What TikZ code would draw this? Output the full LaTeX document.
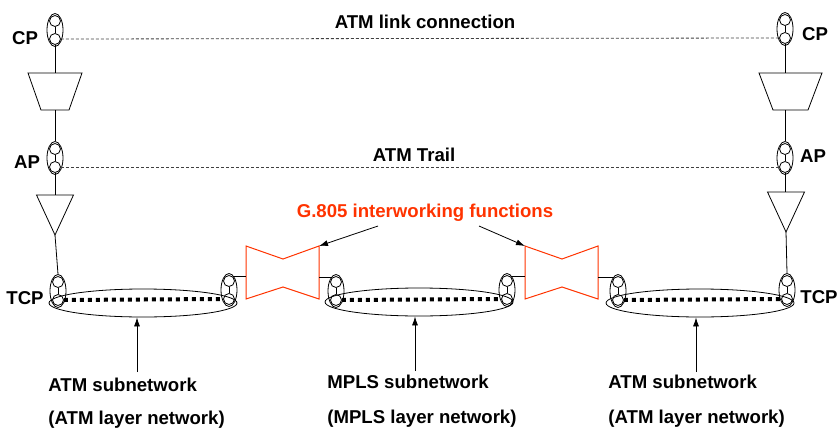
\documentclass[tikz,border=0pt]{standalone}
\usepackage{fontspec}
\setmainfont{Liberation Sans}
\usepackage{tikz}
\usetikzlibrary{arrows.meta,positioning,shapes.geometric}
\definecolor{iwred}{RGB}{255,51,0}
\tikzstyle{portshell}=[draw,ellipse,minimum width=16pt,minimum height=33pt,inner sep=0pt]
\tikzstyle{portdot}=[draw,circle,minimum size=11pt,inner sep=0pt]
\tikzstyle{subnet}=[draw,ellipse,minimum width=188pt,minimum height=28pt,inner sep=0pt]
\tikzstyle{lbl}=[font=\bfseries\fontsize{18.6}{22}\selectfont,inner sep=0pt]
\tikzstyle{conn}=[black!75,dash pattern=on 3pt off 2pt]
\tikzstyle{fabric}=[line width=4pt,dash pattern=on 4pt off 4pt]
\tikzstyle{iwf}=[iwred,line width=1pt]
\tikzstyle{pointer}=[-{Latex[length=9pt,width=6pt]}]
% a connection point: ellipse round two small circles
\newcommand{\portpair}[3]{%
  \node[portshell] (#1) at (#2,#3) {};
  \node[portdot] (#1-t) at (#2,#3-9) {};
  \node[portdot] (#1-b) at (#2,#3+9) {};
  \draw (#1-t) -- (#1-b);
}
% adaptation trapezium: name, x, top y, half top, half bottom
\newcommand{\adapt}[5]{%
  \coordinate (#1-n) at (#2,#3);
  \coordinate (#1-s) at (#2,#3+37);
  \draw (#2-#4,#3) -- (#2+#4,#3) -- (#2+#5,#3+37) -- (#2-#5,#3+37) -- cycle;
}
% termination triangle: name, x, top y
\newcommand{\termtri}[3]{%
  \coordinate (#1-n) at (#2,#3);
  \coordinate (#1-s) at (#2,#3+40);
  \draw (#2-18.5,#3) -- (#2+18.5,#3) -- (#2,#3+40) -- cycle;
}

\begin{document}
\begin{tikzpicture}[x=1pt,y=-1pt,line width=0.8pt]
\useasboundingbox (0,0) rectangle (837,428);

% left end
\portpair{cpL}{55}{30}
\adapt{adL}{55}{73}{27}{14}
\portpair{apL}{55}{158}
\termtri{trL}{55}{195}
\portpair{tcpL}{58}{291}
\draw (cpL-b.south) -- (adL-n);
\draw (adL-s) -- (apL.north);
\draw (apL-b.south) -- (trL-n);
\draw (trL-s) -- (tcpL.north);
\node[lbl] (cpLlbl) at (25,38) {CP};
\node[lbl] (apLlbl) at (27,162) {AP};
\node[lbl] (tcpLlbl) at (25,298) {TCP};

% right end
\portpair{cpR}{785}{29}
\adapt{adR}{790.5}{73}{31.5}{17.5}
\portpair{apR}{785}{158}
\termtri{trR}{786}{192}
\portpair{tcpR}{787}{290}
\draw (cpR-b.south) -- (cpR-b.south |- adR-n);
\draw (apR.north |- adR-s) -- (apR.north);
\draw (apR-b.south) -- (apR-b.south |- trR-n);
\draw (trR-s) -- (tcpR.north);
\node[lbl] (cpRlbl) at (815,34) {CP};
\node[lbl] (apRlbl) at (813,156) {AP};
\node[lbl] (tcpRlbl) at (819,297) {TCP};

% link connection and trail
\draw[conn] (cpL-b.east) -- (cpR-b.west);
\draw[conn] (apL-b.east) -- (apR-b.west);
\node[lbl] (lnk) at (425,22) {ATM link connection};
\node[lbl] (trail) at (414,155) {ATM Trail};

% subnetworks
\node[subnet] (net1) at (143,303) {};
\node[subnet] (net2) at (419,302) {};
\node[subnet] (net3) at (700,303) {};
\portpair{p1R}{229}{290}
\portpair{p2L}{336}{291}
\portpair{p2R}{507}{290}
\portpair{p3L}{618}{291}
\draw[fabric] (tcpL-b.east) -- (p1R-b.west);
\draw[fabric] (p2L-b.east) -- (p2R-b.west);
\draw[fabric] (p3L-b.east) -- (tcpR-b.west);

% interworking functions
\foreach \n/\x in {iwf1/246,iwf2/525} {
  \coordinate (\n-nw) at (\x,246);
  \coordinate (\n-n) at (\x+37,259);
  \coordinate (\n-ne) at (\x+73,246);
  \coordinate (\n-se) at (\x+73,299);
  \coordinate (\n-s) at (\x+37,287);
  \coordinate (\n-sw) at (\x,299);
  \draw[iwf] (\n-nw) -- (\n-n) -- (\n-ne) -- (\n-se) -- (\n-s) -- (\n-sw) -- cycle;
}
\draw (p1R-t.north east) -- (p1R-t.north east -| iwf1-nw);
\draw (p2L-t.north west) -- (p2L-t.north west -| iwf1-ne);
\draw (p2R-t.north east) -- (p2R-t.north east -| iwf2-nw);
\draw (p3L-t.north west) -- (p3L-t.north west -| iwf2-ne);
\node[lbl,text=iwred] (g805) at (425,213) {G.805 interworking functions};
\coordinate (g805-l) at (378,226);
\coordinate (g805-r) at (479,226);
\draw[pointer] (g805-l) -- (iwf1-ne);
\draw[pointer] (g805-r) -- (iwf2-nw);

% captions
\node[lbl,anchor=west] (cap1a) at (48,385) {ATM subnetwork};
\node[lbl,anchor=west] (cap1b) at (48,420) {(ATM layer network)};
\node[lbl,anchor=west] (cap2a) at (327,382) {MPLS subnetwork};
\node[lbl,anchor=west] (cap2b) at (327,419) {(MPLS layer network)};
\node[lbl,anchor=west] (cap3a) at (608,382) {ATM subnetwork};
\node[lbl,anchor=west] (cap3b) at (608,419) {(ATM layer network)};
\coordinate (ar1) at (137,372);
\coordinate (ar2) at (415,371);
\coordinate (ar3) at (696,372);
\draw[pointer] (ar1) -- (ar1 |- net1.south);
\draw[pointer] (ar2) -- (ar2 |- net2.south);
\draw[pointer] (ar3) -- (ar3 |- net3.south);
\end{tikzpicture}
\end{document}
